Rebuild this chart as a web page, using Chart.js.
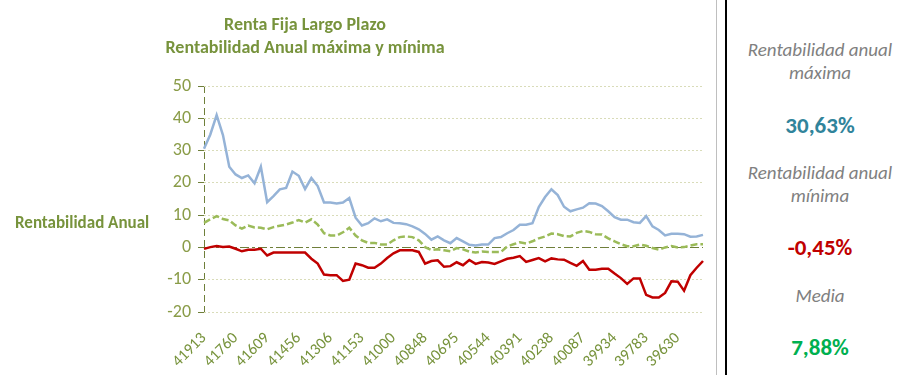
<!DOCTYPE html>
<html>
<head>
<meta charset="utf-8">
<script src="https://cdn.jsdelivr.net/npm/chart.js@4"></script>
<style>
  html, body { margin: 0; padding: 0; background: #fff; }
  body { width: 899px; height: 375px; position: relative; overflow: hidden; font-family: Carlito, Lato, sans-serif; }
  #wrap { position: absolute; left: 0; top: 0; width: 712px; height: 375px; }
  .title { position: absolute; left: 305px; transform: translateX(-50%); text-align: center; color: #77933C; font-weight: bold; font-size: 18px; line-height: 22px; white-space: nowrap; }
  .ytitle { position: absolute; left: 15px; top: 212px; color: #77933C; font-weight: bold; font-size: 17px; line-height: 22px; white-space: nowrap; }
  .vline { position: absolute; top: 0; height: 375px; }
  .panel { position: absolute; left: 735px; width: 170px; text-align: center; white-space: nowrap; }
  .lbl { color: #808080; font-style: italic; font-size: 19px; line-height: 23px; }
  .val { font-weight: bold; font-size: 23px; line-height: 28px; }
</style>
</head>
<body>
<div id="wrap"><canvas id="chart"></canvas></div>
<div class="title" style="top:13px">Renta Fija Largo Plazo</div>
<div class="title" style="top:36px">Rentabilidad Anual máxima y mínima</div>
<div class="ytitle">Rentabilidad Anual</div>
<div class="vline" style="left:716px;width:1px;background:#BFBFBF"></div>
<div class="vline" style="left:725px;width:2px;background:#000"></div>
<div class="panel lbl" style="top:38px">Rentabilidad anual<br>máxima</div>
<div class="panel val" style="top:111px;color:#31849B">30,63%</div>
<div class="panel lbl" style="top:161px">Rentabilidad anual<br>mínima</div>
<div class="panel val" style="top:233px;color:#C00000">-0,45%</div>
<div class="panel lbl" style="top:284px">Media</div>
<div class="panel val" style="top:333px;color:#00B050">7,88%</div>
<script>
// Fechas (serial Excel, mensual, de la más reciente a la más antigua)
const fechas = [
  41913, 41883, 41852, 41821, 41791, 41760, 41730, 41699, 41671, 41640,
  41609, 41579, 41548, 41518, 41487, 41456, 41426, 41395, 41365, 41334, 41306, 41275,
  41244, 41214, 41183, 41153, 41122, 41091, 41061, 41030, 41000, 40969, 40940, 40909,
  40878, 40848, 40817, 40787, 40756, 40725, 40695, 40664, 40634, 40603, 40575, 40544,
  40513, 40483, 40452, 40422, 40391, 40360, 40330, 40299, 40269, 40238, 40210, 40179,
  40148, 40118, 40087, 40057, 40026, 39995, 39965, 39934, 39904, 39873, 39845, 39814,
  39783, 39753, 39722, 39692, 39661, 39630, 39600, 39569, 39539, 39508
];

const rentMaxima = [
  30.6, 35.0, 41.0, 34.8, 25.0, 22.6, 21.5, 22.3, 19.9, 25.0,
  14.0, 15.9, 18.0, 18.4, 23.5, 22.2, 18.1, 21.5, 19.0, 13.9,
  13.9, 13.6, 13.9, 15.3, 9.2, 6.8, 7.5, 9.0, 8.1, 8.7,
  7.6, 7.5, 7.2, 6.5, 5.6, 4.2, 2.4, 3.4, 2.2, 1.3,
  2.9, 1.9, 0.8, 0.6, 0.9, 0.9, 2.9, 3.2, 4.4, 5.4,
  7.0, 7.0, 7.5, 12.5, 15.6, 18.0, 16.2, 12.6, 11.2, 11.8,
  12.3, 13.7, 13.6, 12.8, 11.2, 9.4, 8.6, 8.6, 7.8, 7.6,
  9.7, 6.5, 5.4, 3.7, 4.2, 4.2, 4.1, 3.3, 3.4, 3.9
];

const rentMedia = [
  7.6, 8.7, 9.7, 8.8, 8.4, 6.8, 5.8, 6.8, 6.2, 6.1,
  5.6, 6.3, 6.7, 7.1, 7.7, 8.5, 7.7, 8.7, 7.1, 4.4,
  3.7, 3.7, 4.7, 6.1, 3.7, 2.2, 1.4, 1.4, 0.9, 0.9,
  2.2, 3.2, 3.4, 3.2, 2.2, 0.1, -0.8, -0.6, -0.9, -1.2,
  -0.2, -0.6, -1.3, -1.6, -1.3, -1.4, -1.4, -1.4, 0.3, 1.0,
  1.6, 1.2, 1.9, 2.8, 3.4, 4.3, 4.1, 3.5, 3.4, 4.5,
  5.1, 4.8, 4.1, 4.0, 2.8, 1.9, 1.0, 0.4, 0.4, 0.9,
  0.5, -0.2, -0.7, 0.0, 0.4, 0.0, 0.1, 0.6, 1.0, 1.0
];

const rentMinima = [
  -0.45, 0.1, 0.4, 0.1, 0.3, -0.4, -1.2, -0.7, -0.7, -0.4,
  -2.5, -1.6, -1.6, -1.6, -1.6, -1.6, -1.6, -3.5, -5.0, -8.4,
  -8.6, -8.6, -10.4, -10.0, -5.0, -5.5, -6.3, -6.3, -5.0, -3.3,
  -1.8, -0.9, -0.9, -0.9, -1.4, -5.0, -4.2, -4.0, -6.0, -5.8,
  -4.6, -5.5, -3.9, -5.1, -4.5, -4.7, -5.1, -4.3, -3.5, -3.2,
  -2.7, -4.5, -3.9, -3.3, -4.3, -3.4, -3.7, -3.8, -4.8, -5.7,
  -4.2, -6.9, -6.9, -6.6, -6.6, -8.1, -9.5, -11.3, -9.6, -9.6,
  -14.7, -15.5, -15.5, -14.1, -10.5, -10.6, -13.4, -8.6, -6.3, -4.2
];

const AXIS = '#6F7F3A';
const GRID = '#D9DCB9';
const TICK_TXT = '#8A9C48';

new Chart(document.getElementById('chart'), {
  type: 'line',
  data: {
    labels: fechas,
    datasets: [
      { label: 'Máxima', data: rentMaxima, borderColor: '#95B3D7', borderWidth: 2.5, pointRadius: 0, tension: 0 },
      { label: 'Media', data: rentMedia, borderColor: '#9BBB59', borderWidth: 2.5, borderDash: [7, 3], pointRadius: 0, tension: 0 },
      { label: 'Mínima', data: rentMinima, borderColor: '#C00000', borderWidth: 2.5, pointRadius: 0, tension: 0 },
    ],
  },
  options: {
    responsive: true,
    maintainAspectRatio: false,
    animation: false,
    layout: { padding: { top: 86, right: 9, left: 0, bottom: 0 } },
    plugins: { legend: { display: false }, tooltip: { enabled: false } },
    scales: {
      x: {
        offset: false,
        border: { display: false, dash: [7, 4] },
        grid: {
          color: ctx => ctx.index === 0 ? AXIS : 'rgba(0,0,0,0)',
          lineWidth: 1,
          drawTicks: false,
        },
        ticks: {
          autoSkip: false,
          minRotation: 45,
          maxRotation: 45,
          padding: 17,
          color: '#77933C',
          font: { family: 'Carlito, Lato, sans-serif', size: 16 },
          callback: (v, i) => i % 5 === 0 ? fechas[i] : '',
        },
        afterFit: s => { s.height = 63; s.paddingLeft = 0; s.paddingRight = 0; },
      },
      y: {
        min: -20,
        max: 50,
        border: {
          display: false,
          dash: ctx => (ctx.tick && ctx.tick.value === 0) ? [9, 3, 3, 3] : [2, 2],
        },
        grid: {
          color: ctx => (ctx.tick && ctx.tick.value === 0) ? AXIS : GRID,
          lineWidth: 1,
          tickLength: 6,
          tickColor: AXIS,
          tickBorderDash: [],
        },
        ticks: {
          stepSize: 10,
          padding: 7,
          color: TICK_TXT,
          font: { family: 'Carlito, Lato, sans-serif', size: 18 },
        },
        afterFit: s => { s.width = 204; },
      },
    },
  },
});
</script>
</body>
</html>
